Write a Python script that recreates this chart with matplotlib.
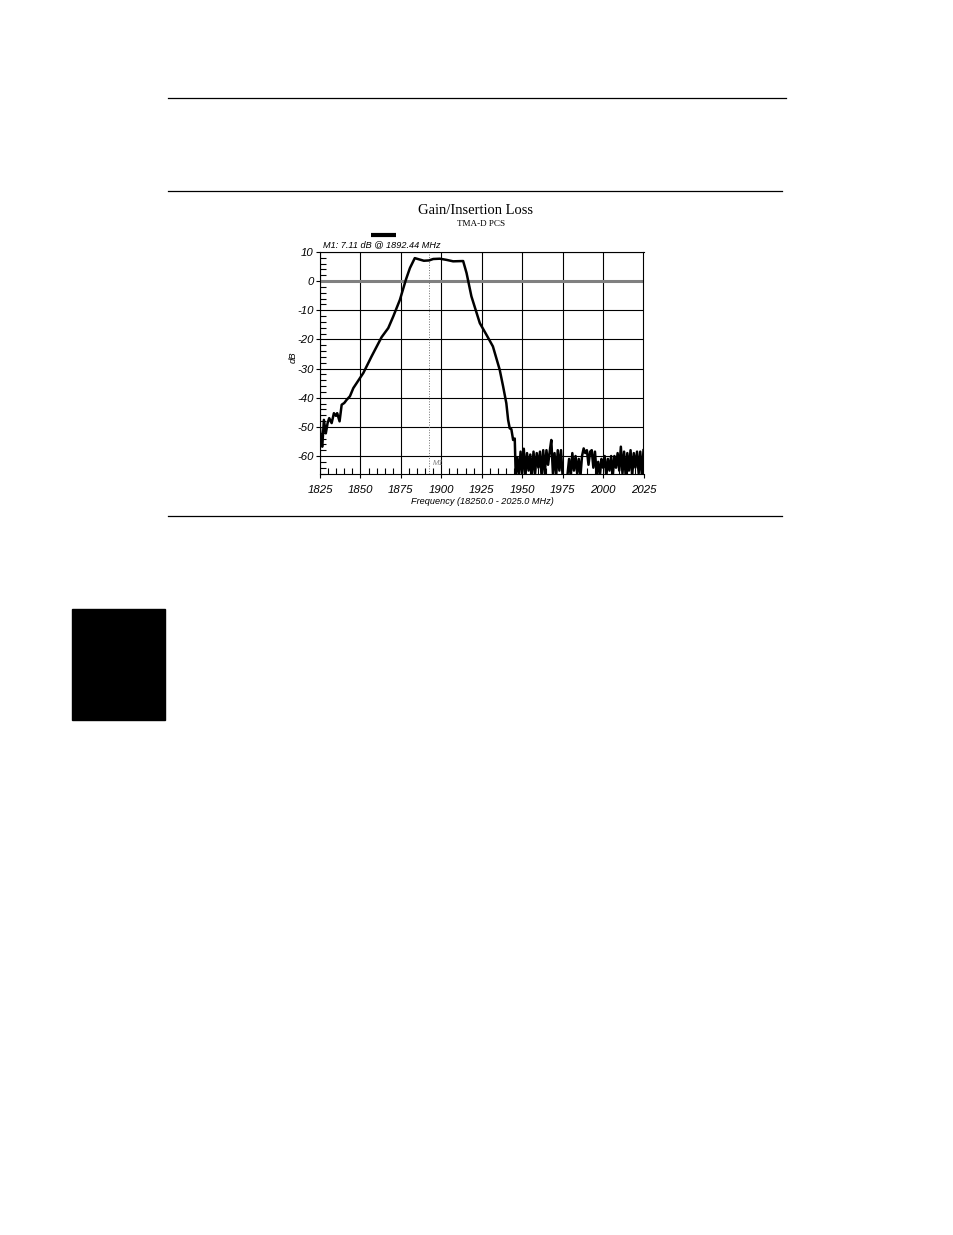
import numpy as np
import matplotlib
matplotlib.use("Agg")
import matplotlib.pyplot as plt
from matplotlib.lines import Line2D
from matplotlib.patches import Rectangle

# gain trace (MHz, dB)
freq_main = [1825, 1825.6, 1826.4, 1827.4, 1828.6, 1829.7, 1830.7, 1832.2, 1833.6,
             1834.8, 1835.6, 1837.1, 1838.4, 1840.0, 1841.5, 1843.5, 1845.6, 1851.8,
             1856.9, 1863.1, 1867.2, 1870.3, 1874.4, 1878.1, 1880.6, 1883.6, 1889.2,
             1892.44, 1895.0, 1899.1, 1903.2, 1907.3, 1913.5, 1915.6, 1918.6, 1923.8,
             1927.9, 1931.9, 1936.1, 1938.2, 1940.2, 1941.3, 1942.3, 1943.3, 1944.4,
             1945.4]
gain_main = [-50.5, -55.1, -56.8, -47.6, -52.2, -48.7, -47.0, -48.7, -45.3,
             -46.2, -45.3, -48.1, -42.4, -41.8, -40.7, -39.5, -36.7, -31.5,
             -25.8, -19.2, -16.1, -12.1, -6.4, 0.5, 4.5, 7.9, 7.0,
             7.11, 7.6, 7.7, 7.3, 6.8, 6.9, 2.8, -5.2, -14.4,
             -18.4, -22.4, -30.4, -36.1, -41.9, -47.6, -50.5, -50.8, -54.5,
             -54.0]

# noise floor past the stop band
freq_noise = [1946, 1947, 1948, 1949, 1950, 1951, 1952, 1953, 1954, 1955, 1956, 1957,
              1958, 1959, 1960, 1961, 1962, 1963, 1964, 1965, 1966, 1967, 1968, 1969,
              1970, 1971, 1972, 1973, 1974, 1975, 1976, 1977, 1978, 1979, 1980, 1981,
              1982, 1983, 1984, 1985, 1986, 1987, 1988, 1989, 1990, 1991, 1992, 1993,
              1994, 1995, 1996, 1997, 1998, 1999, 2000, 2001, 2002, 2003, 2004, 2005,
              2006, 2007, 2008, 2009, 2010, 2011, 2012, 2013, 2014, 2015, 2016, 2017,
              2018, 2019, 2020, 2021, 2022, 2023, 2024, 2025]
gain_noise = [-66.5, -60.5, -67, -58.5, -66, -57.5, -67, -59, -65, -59.5, -67, -58.5,
              -66, -59, -64, -58.5, -67, -58, -66, -58, -63, -58.5, -54.5, -66,
              -59, -67, -58, -65, -58, -67, -67, -67, -66.5, -61, -67, -59,
              -65, -60, -66, -61, -67, -60, -57.4, -59, -58, -63, -58.5, -58,
              -64, -58.5, -66, -62, -67, -61, -64, -60, -67, -61, -65, -60,
              -67, -60, -64, -59, -65, -56.8, -66, -58.5, -67, -59, -65, -58,
              -67, -59, -64, -58.5, -66, -58.5, -67, -58]

marker_freq = 1892.44
marker_gain = 7.11

x_ticks = [1825, 1850, 1875, 1900, 1925, 1950, 1975, 2000, 2025]
y_ticks = [-60, -50, -40, -30, -20, -10, 0, 10]

W, H = 954, 1235
sans = ['Liberation Sans', 'DejaVu Sans']
serif = ['Liberation Serif', 'DejaVu Serif']

plt.rcParams['font.family'] = sans
plt.rcParams['font.style'] = 'italic'
plt.rcParams['axes.unicode_minus'] = False

def fx(px):
    return px / W

def fy(py):
    return 1 - py / H

fig = plt.figure(figsize=(W / 100, H / 100), dpi=100)

# page rules and the black tab
for y, x0, x1 in [(98, 168, 786), (191, 168, 782), (516, 168, 782)]:
    fig.add_artist(Line2D([fx(x0), fx(x1)], [fy(y), fy(y)], color='black', lw=0.9))
fig.add_artist(Rectangle((fx(72), fy(720)), fx(165) - fx(72), fy(609) - fy(720),
                         color='black', transform=fig.transFigure))

ax = fig.add_axes([fx(320), fy(473.5), fx(643.5) - fx(320), fy(252) - fy(473.5)])
ax.set_xlim(1825, 2025)
ax.set_ylim(-66, 10)

ax.grid(True, which='major', color='black', lw=0.8)
ax.axhline(0, color='#808080', lw=2.2, zorder=2)
ax.axvline(marker_freq, color='#707070', lw=0.7, ls=':', zorder=2)

f_all = freq_main + freq_noise
g_all = gain_main + gain_noise
ax.plot(f_all, g_all, color='black', lw=1.8, zorder=3)

ax.set_xticks(x_ticks)
ax.set_yticks(y_ticks)
ax.set_xticks(np.arange(1825, 2026, 5), minor=True)
ax.set_yticks(np.arange(-66, 11, 2), minor=True)
ax.tick_params(which='minor', direction='in', length=4, width=0.8, top=False, right=False)
ax.tick_params(axis='x', which='major', direction='out', length=3, width=0.8, pad=5,
               labelsize=8.2)
ax.tick_params(axis='y', which='major', direction='out', length=3, width=0.8, pad=1.5,
               labelsize=8.2)
for sp in ax.spines.values():
    sp.set_linewidth(0.8)

ax.text(marker_freq + 2.5, -62.5, 'M1', color='#808080', fontsize=5.5, va='center')

# titles and annotations
fig.text(fx(476), fy(211), 'Gain/Insertion Loss', family=serif, style='normal',
         fontsize=10.5, ha='center', va='center')
fig.text(fx(481), fy(224.5), 'TMA-D PCS', family=serif, style='normal', fontsize=6.6,
         ha='center', va='center')
fig.add_artist(Line2D([fx(371), fx(396)], [fy(235), fy(235)], color='black', lw=3,
                      solid_capstyle='butt'))
fig.text(fx(323), fy(245), 'M1: %.2f dB @ %.2f MHz' % (marker_gain, marker_freq),
         fontsize=6.6, ha='left', va='center')
fig.text(fx(293), fy(357), 'dB', fontsize=6.8, rotation=90, ha='center', va='center')
fig.text(fx(482), fy(502), 'Frequency (18250.0 - 2025.0 MHz)', fontsize=6.6,
         ha='center', va='center')

fig.savefig('out.png', dpi=100)
